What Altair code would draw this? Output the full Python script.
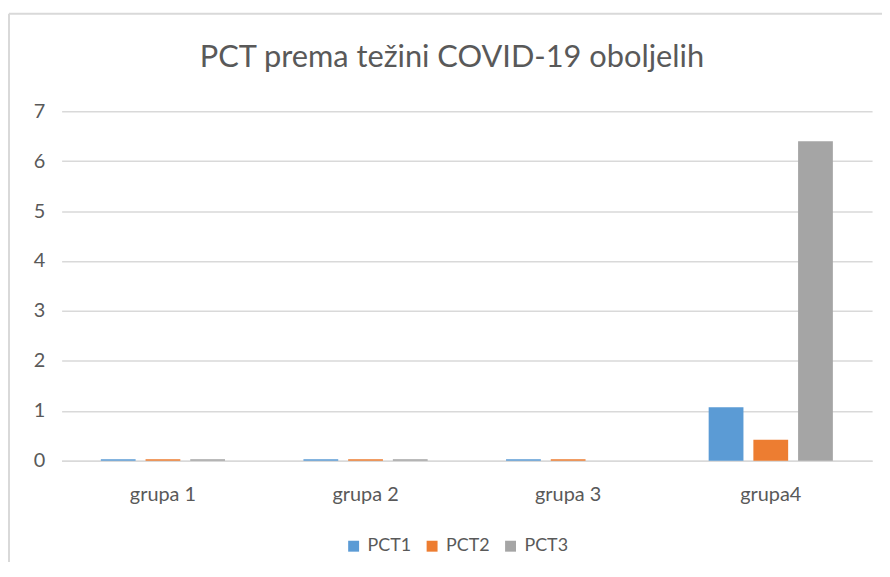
import altair as alt
import pandas as pd

groups = ["grupa 1", "grupa 2", "grupa 3", "grupa4"]
series = ["PCT1", "PCT2", "PCT3"]
pct1 = [0.03, 0.03, 0.03, 1.07]
pct2 = [0.03, 0.03, 0.03, 0.42]
pct3 = [0.03, 0.03, 0.0, 6.40]
colors = ["#5b9bd5", "#ed7d31", "#a5a5a5"]
title_text = "PCT prema težini COVID-19 oboljelih"

rows = []
for i, g in enumerate(groups):
    for s, vals in zip(series, [pct1, pct2, pct3]):
        rows.append({"group": g, "series": s, "value": vals[i]})
df = pd.DataFrame(rows)

font = "Lato"
txt = "#595959"
border = "#d9d9d9"

bars = alt.Chart(df).mark_bar().encode(
    x=alt.X("group:N", sort=groups, title=None,
            scale=alt.Scale(paddingInner=0.338, paddingOuter=0.169),
            axis=alt.Axis(labelAngle=0, labelFontSize=20, labelColor=txt, labelFont=font,
                          labelPadding=24, ticks=False, domainColor=border, domainWidth=1.5)),
    xOffset=alt.XOffset("series:N", sort=series,
                        scale=alt.Scale(paddingInner=0.222, paddingOuter=0.111)),
    y=alt.Y("value:Q", title=None,
            scale=alt.Scale(domain=[0, 7]),
            axis=alt.Axis(values=[0, 1, 2, 3, 4, 5, 6, 7], labelFontSize=20, labelColor=txt,
                          labelFont=font, labelPadding=17, ticks=False, domain=False,
                          gridColor=border, gridWidth=1.5)),
    color=alt.Color("series:N", sort=series,
                    scale=alt.Scale(domain=series, range=colors),
                    legend=alt.Legend(title=None, orient="none", legendX=285, legendY=429,
                                      direction="horizontal", symbolType="square",
                                      symbolSize=121, symbolStrokeWidth=0, labelFontSize=18,
                                      labelColor=txt, labelFont=font, columnPadding=12,
                                      labelOffset=5)),
)

frame_df = pd.DataFrame({"title": [title_text]})
left_edge = alt.Chart(frame_df).mark_rule(color=border, strokeWidth=2).encode(
    x=alt.value(-53), y=alt.value(-98), y2=alt.value(470))
top_edge = alt.Chart(frame_df).mark_rule(color=border, strokeWidth=2).encode(
    x=alt.value(-53), x2=alt.value(830), y=alt.value(-98))
title_mark = alt.Chart(frame_df).mark_text(
    font=font, fontSize=31, color=txt, align="center", baseline="middle").encode(
    text="title:N", x=alt.value(393), y=alt.value(-53))

chart = alt.layer(bars, left_edge, top_edge, title_mark).properties(
    width=816, height=352,
    autosize=alt.AutoSizeParams(type="none"),
    padding={"left": 54, "top": 102, "right": 10, "bottom": 100},
).configure_view(stroke=None)

chart.save("out.html", embed_options={"renderer": "svg", "actions": False})
